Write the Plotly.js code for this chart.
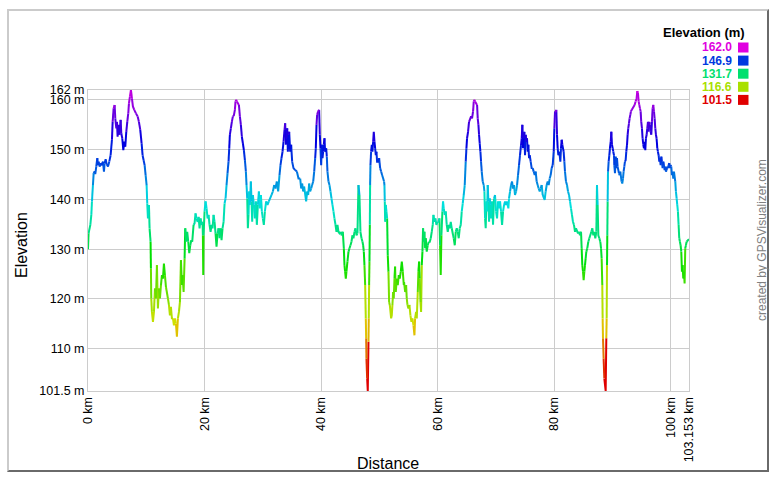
<!DOCTYPE html>
<html><head><meta charset="utf-8">
<script src="https://cdn.plot.ly/plotly-3.0.1.min.js"></script>
<style>
html,body{margin:0;padding:0;background:#fff;}
#frame{position:absolute;left:7px;top:9px;width:762px;height:463px;box-sizing:border-box;border-left:2px solid #cbcbcb;border-top:2px solid #cbcbcb;border-right:2px solid #6a6a6a;border-bottom:2px solid #6a6a6a;background:#fff;}
#chart{position:absolute;left:0;top:0;width:777px;height:478px;}
</style></head><body>
<div id="frame"></div><div id="chart"></div>
<script>
const distKm = [
0.00,0.10,0.40,0.57,0.68,0.85,0.97,1.14,1.25,1.42,1.60,1.71,1.82,2.00,2.17,2.40,2.57,2.74,2.85,3.03,3.20,3.43,3.65,3.88,4.11,4.23,4.40,4.57,4.68,4.86,4.97,5.08,5.26,5.43,5.60,5.71,5.88,6.06,6.23,6.40,6.57,6.74,6.91,7.03,7.20,7.37,7.54,7.71,7.94,8.23,8.52,8.74,8.97,9.20,9.37,9.54,9.72,9.89,10.06,10.17,10.29,10.46,10.57,10.74,10.80,10.86,10.97,11.15,11.32,11.49,11.66,11.83,12.00,12.17,12.35,12.52,12.69,12.86,13.03,13.20,13.38,13.55,13.72,13.89,14.06,14.23,14.40,14.58,14.75,14.92,15.09,15.26,15.43,15.61,15.78,15.95,16.12,16.23,16.41,16.58,16.69,16.86,17.03,17.21,17.38,17.55,17.72,17.89,18.12,
18.29,18.46,18.63,18.81,18.98,19.15,19.32,19.49,19.66,19.72,19.78,19.83,20.01,20.18,20.35,20.52,20.69,20.86,21.04,21.21,21.38,21.55,21.72,21.89,22.06,22.24,22.41,22.58,22.75,22.92,23.09,23.27,23.44,23.61,23.78,23.95,24.12,24.24,24.35,24.52,24.69,24.87,25.04,25.21,25.32,25.44,25.55,25.72,25.90,26.07,26.24,26.41,26.58,26.75,26.93,27.10,27.21,27.33,27.44,27.55,27.67,27.78,27.95,28.07,28.18,28.30,28.47,28.64,28.81,28.98,29.16,29.33,29.50,29.67,29.84,30.01,30.18,30.36,30.58,30.81,31.04,31.27,31.50,31.73,31.96,32.19,32.41,32.64,32.87,33.04,33.21,33.39,33.56,33.73,33.84,33.96,34.07,34.19,34.30,34.42,34.53,34.70,34.87,35.04,35.27,35.56,35.85,36.13,
36.42,36.59,36.76,36.93,37.10,37.27,37.44,37.62,37.79,37.96,38.13,38.30,38.47,38.65,38.82,38.99,39.10,39.22,39.33,39.50,39.67,39.79,39.90,40.02,40.13,40.25,40.36,40.47,40.59,40.70,40.88,40.99,41.10,41.28,41.45,41.62,41.79,41.96,42.13,42.30,42.48,42.65,42.82,42.99,43.16,43.33,43.56,43.73,43.91,44.02,44.13,44.25,44.36,44.53,44.71,44.88,45.05,45.22,45.39,45.56,45.74,45.91,46.08,46.25,46.42,46.59,46.76,46.94,47.11,47.22,47.34,47.45,47.57,47.68,47.74,47.79,47.91,48.02,48.14,48.19,48.25,48.31,48.37,48.42,48.48,48.59,48.71,48.82,48.94,49.05,49.17,49.28,49.40,49.51,49.62,49.80,49.97,50.14,50.31,50.48,50.65,50.82,50.88,50.94,51.00,51.11,51.22,51.34,51.45,51.57,51.68,51.80,51.91,52.03,52.14,52.25,52.37,52.48,52.60,52.71,52.83,53.00,53.17,53.34,53.51,53.68,53.86,54.03,54.20,
54.25,54.43,54.60,54.71,54.83,55.00,55.17,55.34,55.51,55.68,55.86,56.03,56.14,56.31,56.43,56.60,56.71,56.83,56.94,57.06,57.17,57.29,57.40,57.51,57.63,57.74,57.86,57.97,58.14,58.31,58.49,58.66,58.83,59.00,59.17,59.29,59.46,59.63,59.80,59.97,60.14,60.32,60.43,60.54,60.66,60.83,60.94,61.06,61.23,61.40,61.57,61.75,61.92,62.09,62.26,62.43,62.60,62.77,62.95,63.12,63.29,63.46,63.63,63.80,63.98,64.15,64.32,64.49,64.66,64.83,64.95,65.06,65.23,65.40,65.58,65.75,65.92,66.09,66.21,66.32,66.43,66.61,66.78,66.89,67.01,67.12,67.23,67.35,67.46,67.58,67.75,67.92,68.04,68.15,68.26,68.38,68.49,68.61,68.72,68.84,68.95,69.06,69.18,69.35,69.52,69.69,69.86,70.04,70.21,70.38,70.55,70.72,70.89,71.07,71.24,71.41,71.58,71.75,71.92,72.15,
72.26,72.44,72.61,72.78,72.95,73.12,73.29,73.47,73.64,73.81,73.98,74.15,74.32,74.44,74.55,74.67,74.78,74.89,75.01,75.12,75.24,75.35,75.47,75.58,75.70,75.81,75.98,76.15,76.32,76.50,76.67,76.84,77.01,77.18,77.35,77.53,77.70,77.87,78.04,78.21,78.38,78.55,78.73,78.90,79.07,79.24,79.41,79.58,79.76,79.93,80.04,80.16,80.27,80.38,80.50,80.61,80.73,80.90,81.07,81.18,81.30,81.41,81.53,81.64,81.76,81.87,82.04,82.21,82.39,82.56,82.73,82.90,83.07,83.24,83.41,83.59,83.76,83.93,84.10,84.27,84.44,84.62,84.73,84.84,84.96,85.07,85.19,85.30,85.42,85.53,85.70,85.87,86.05,86.22,86.39,86.56,86.73,86.90,87.07,87.25,87.36,87.47,87.59,87.76,87.93,88.05,88.16,88.27,88.33,88.39,88.50,88.62,88.85,88.96,89.02,89.08,89.13,89.19,89.25,89.36,89.48,89.59,89.71,89.82,89.93,90.05,90.16,90.28,
90.33,90.45,90.56,90.68,90.79,90.90,91.02,91.13,91.25,91.36,91.48,91.59,91.70,91.82,91.93,92.05,92.16,92.28,92.39,92.51,92.62,92.73,92.85,92.96,93.08,93.19,93.31,93.48,93.65,93.82,93.99,94.16,94.28,94.39,94.51,94.62,94.74,94.85,94.96,95.08,95.19,95.31,95.42,95.54,95.65,95.76,95.88,95.99,96.11,96.22,96.34,96.45,96.57,96.68,96.79,96.91,97.02,97.14,97.25,97.37,97.48,97.59,97.71,97.82,97.94,98.05,98.17,98.28,98.40,98.51,98.62,98.74,98.85,98.97,99.08,99.20,99.31,99.42,99.54,99.65,99.77,99.88,100.00,100.11,100.22,100.34,100.45,100.57,100.68,100.80,100.91,101.03,101.14,101.25,101.37,101.48,101.60,101.71,101.83,101.94,102.05,102.17,102.28,102.40,102.51,102.63,102.74,102.86,102.97,103.153
];
const elevM = [
130.0,133.2,134.9,136.9,139.6,142.9,145.3,145.6,145.1,146.6,148.3,146.9,147.6,146.6,147.3,146.9,147.6,145.6,147.3,148.1,147.1,146.6,147.6,148.9,152.0,155.6,158.3,159.0,156.3,154.3,155.6,152.6,155.0,153.0,156.0,153.3,152.3,149.9,151.6,150.6,153.6,155.6,157.3,159.3,160.7,162.0,160.3,158.7,158.0,157.3,156.7,155.6,154.0,151.3,148.9,147.9,146.9,144.9,142.9,139.2,136.2,138.9,134.2,131.5,126.1,120.1,117.4,115.4,117.4,122.1,120.1,126.8,118.1,122.1,120.1,122.8,124.8,124.1,127.1,124.8,122.4,120.8,120.1,118.8,116.7,118.4,116.1,116.1,114.7,116.1,115.1,112.4,116.1,117.4,119.4,127.8,122.8,124.8,121.4,128.1,134.2,131.5,133.5,131.5,129.2,130.8,131.8,131.5,134.9,
135.2,137.2,136.2,135.5,136.5,134.2,136.2,134.9,135.5,132.8,124.8,132.8,137.6,139.6,138.2,136.2,136.9,134.9,133.5,134.9,134.2,136.9,135.5,133.2,130.5,133.2,134.2,132.2,134.2,131.8,134.2,135.5,139.2,140.2,142.9,145.3,147.6,150.3,153.0,154.3,155.6,156.7,156.9,158.0,159.7,160.0,159.7,159.3,159.0,156.7,155.0,152.6,151.3,149.9,147.9,145.6,142.9,140.2,134.2,136.9,141.6,138.9,143.6,139.6,135.5,140.9,138.9,136.2,139.6,134.9,138.9,141.6,138.2,140.9,137.6,136.2,134.9,137.6,139.6,138.9,139.6,140.2,140.9,141.6,142.9,142.2,143.6,141.6,144.9,146.9,148.3,149.6,151.6,154.0,155.3,151.0,152.3,154.3,149.6,153.0,153.6,149.6,151.0,147.6,146.3,145.9,145.6,144.2,
144.2,142.2,143.2,141.6,142.6,140.2,139.6,141.6,140.9,143.2,141.6,142.2,142.9,143.6,145.6,148.3,150.3,155.0,157.0,157.7,158.0,153.0,150.3,146.9,151.0,148.3,149.6,151.0,152.3,149.6,150.3,148.6,145.6,143.6,142.9,141.6,140.2,138.9,137.6,136.2,134.9,133.5,134.9,133.5,133.2,133.5,132.8,133.5,130.2,126.8,125.5,124.1,125.5,127.5,129.5,130.2,130.8,131.5,132.8,132.2,133.5,134.2,132.8,133.2,142.9,140.9,133.5,132.2,131.5,130.8,129.5,126.8,122.8,116.1,112.1,108.0,104.0,101.5,111.4,116.1,122.8,127.5,134.9,142.9,146.9,149.6,151.0,149.6,151.6,153.6,151.6,150.3,148.9,149.6,147.6,147.6,148.3,146.3,145.6,144.9,144.2,143.6,142.9,139.6,135.5,138.9,137.6,136.2,128.8,125.5,119.4,118.8,116.7,116.1,116.7,118.8,121.4,120.1,124.1,126.5,121.4,124.1,122.8,124.8,124.1,125.5,127.5,125.5,122.8,
123.4,121.4,122.8,120.1,118.8,118.1,118.8,116.7,115.4,116.1,114.7,112.7,116.1,117.4,116.1,121.4,125.5,127.5,124.1,119.4,117.4,126.8,129.5,134.2,131.5,133.5,130.2,132.2,129.5,130.8,131.5,131.5,132.2,133.5,134.9,136.9,135.5,136.2,134.9,135.5,135.5,136.2,130.8,124.8,132.8,137.6,139.6,138.2,136.9,137.6,134.9,133.5,134.9,134.2,135.5,134.2,132.8,132.2,130.8,133.5,134.2,133.5,132.2,134.2,134.9,137.6,139.2,140.9,142.9,147.6,150.3,152.3,153.6,155.6,156.3,156.7,156.3,157.7,159.7,160.0,159.7,159.3,159.0,156.3,155.0,153.0,151.3,149.6,147.6,145.6,143.6,142.9,141.6,136.2,134.2,139.6,137.6,142.9,139.6,135.5,140.2,138.9,136.2,139.6,134.9,140.2,140.9,137.6,136.2,139.6,138.2,139.6,137.6,134.9,137.6,138.9,139.6,138.9,139.6,138.2,
140.2,141.6,142.9,143.6,142.2,142.9,140.9,141.6,142.9,144.9,146.9,148.9,150.9,152.3,155.0,150.3,152.3,153.6,148.9,153.0,151.6,152.3,149.6,151.0,148.3,148.9,147.6,146.3,146.3,145.6,144.9,145.6,143.6,142.9,142.2,141.6,142.2,142.9,140.9,140.2,139.9,141.6,142.9,143.6,142.9,144.2,144.9,146.3,146.9,149.6,154.3,157.7,157.7,158.0,153.0,150.3,148.9,149.6,147.6,150.3,152.0,151.0,149.6,149.6,147.6,145.6,143.6,142.9,141.6,140.9,139.6,138.2,136.9,135.5,134.9,133.5,134.2,133.5,133.2,133.5,132.8,133.5,130.2,126.8,125.5,123.8,125.5,126.8,128.2,129.5,130.2,131.5,132.2,132.8,133.5,134.2,132.8,133.5,132.2,133.5,142.9,138.9,132.8,132.2,131.5,130.2,128.2,122.8,116.1,112.1,108.0,104.0,101.5,112.1,116.1,126.8,132.8,139.6,145.6,147.6,148.9,150.3,151.6,153.6,151.0,150.3,149.6,148.9,
146.9,145.3,148.6,146.3,148.3,146.6,145.6,145.3,144.9,145.6,144.2,143.6,143.2,144.2,145.6,146.6,147.6,147.9,149.6,150.9,153.0,154.3,155.3,156.3,157.0,157.7,158.0,158.3,158.7,159.0,159.7,160.3,161.8,161.4,159.7,159.0,158.3,157.7,155.6,154.3,152.3,151.0,150.3,151.6,149.9,152.3,153.0,154.3,155.6,153.6,155.6,155.0,153.6,153.0,155.6,158.3,159.0,157.7,156.3,154.3,153.0,152.3,150.3,149.6,148.9,147.6,148.3,146.9,148.6,147.6,146.3,147.6,146.9,145.9,146.6,145.6,145.9,146.6,146.3,146.9,147.3,146.3,146.9,146.6,144.9,145.6,144.2,145.6,143.9,143.6,141.6,140.2,138.9,137.6,134.9,132.2,131.5,130.8,129.5,125.5,126.8,124.1,125.5,123.1,130.2,130.8,131.5,131.8,131.8,132.0
];
const yTickVals = [101.5,110,120,130,140,150,160,162];
const xTickVals = [0,20,40,60,80,100,103.153];
const legendVals = [162.0,146.9,131.7,116.6,101.5];

const FONT = 'Liberation Sans, Arial, sans-serif';
const minE = Math.min(...yTickVals), maxE = Math.max(...yTickVals);

function hsvHex(h){
  const v = 0.88, s = 1;
  const c = v*s, hp = (h%360)/60, x = c*(1-Math.abs(hp%2-1));
  let r=0,g=0,b=0;
  if(hp<1){r=c;g=x;} else if(hp<2){r=x;g=c;} else if(hp<3){g=c;b=x;}
  else if(hp<4){g=x;b=c;} else if(hp<5){r=x;b=c;} else {r=c;b=x;}
  const m=v-c, toH=t=>Math.round((t+m)*255).toString(16).padStart(2,'0');
  return '#'+toH(r)+toH(g)+toH(b);
}
function hueOf(e){ return Math.max(0,Math.min(300,300*(e-minE)/(maxE-minE))); }
function elevColor(e){ return hsvHex(hueOf(e)); }

// group line segments by colour bin (segment coloured by its lower end)
const STEP = 4;
const bins = {};
for(let i=0;i<distKm.length-1;i++){
  const lo = Math.min(elevM[i], elevM[i+1]);
  const b = Math.floor(hueOf(lo)/STEP);
  if(!bins[b]) bins[b] = {x:[],y:[],last:-2};
  const B = bins[b];
  if(B.last !== i){
    if(B.x.length){B.x.push(null);B.y.push(null);}
    B.x.push(distKm[i]); B.y.push(elevM[i]);
  }
  B.x.push(distKm[i+1]); B.y.push(elevM[i+1]);
  B.last = i+1;
}
const traces = Object.keys(bins).map(k=>({
  type:'scatter', mode:'lines', x:bins[k].x, y:bins[k].y,
  line:{color:hsvHex(Math.min(300,k*STEP)), width:2},
  connectgaps:false, hoverinfo:'skip', showlegend:false
}));

function px2x(px){ return (px-88)/601; }
function py2y(py){ return (391-py)/301; }

const annotations = [
  {text:'Elevation', x:px2x(22), y:py2y(245), xref:'paper', yref:'paper', showarrow:false, textangle:-90,
   font:{family:FONT,size:16,color:'#000'}, xanchor:'center', yanchor:'middle'},
  {text:'Distance', x:px2x(388), y:py2y(463), xref:'paper', yref:'paper', showarrow:false,
   font:{family:FONT,size:16,color:'#000'}, xanchor:'center', yanchor:'middle'},
  {text:'<b>Elevation (m)</b>', x:px2x(747), y:py2y(33), xref:'paper', yref:'paper', showarrow:false,
   font:{family:FONT,size:13,color:'#000'}, xanchor:'right', yanchor:'middle'},
  {text:'created by GPSVisualizer.com', x:px2x(762), y:py2y(240), xref:'paper', yref:'paper', showarrow:false, textangle:-90,
   font:{family:FONT,size:12,color:'#808080'}, xanchor:'center', yanchor:'middle'}
];
const shapes = [];
legendVals.forEach((v,i)=>{
  const cy = 47.5 + 13.1*i;
  annotations.push({text:'<b>'+v.toFixed(1)+'</b>', x:px2x(734), y:py2y(cy), xref:'paper', yref:'paper',
    showarrow:false, xanchor:'right', yanchor:'middle', font:{family:FONT,size:12,color:elevColor(v)}});
  shapes.push({type:'rect', xref:'paper', yref:'paper', x0:px2x(738), x1:px2x(748.5), y0:py2y(cy+5), y1:py2y(cy-5),
    fillcolor:elevColor(v), line:{width:0}});
});

const axisCommon = {showgrid:true, gridcolor:'#cccccc', gridwidth:1, showline:true, linecolor:'#cccccc', linewidth:1,
  mirror:true, zeroline:false, ticks:'', tickmode:'array', tickfont:{family:FONT,size:12.5,color:'#000'}};

const layout = {
  width:777, height:478,
  margin:{l:88, r:88, t:90, b:87, pad:0},
  paper_bgcolor:'rgba(0,0,0,0)', plot_bgcolor:'#ffffff',
  showlegend:false,
  xaxis:Object.assign({}, axisCommon, {range:[0,103.153], tickvals:xTickVals,
    ticktext:xTickVals.map(v=>v+' km'), tickangle:-90}),
  yaxis:Object.assign({}, axisCommon, {range:[minE,maxE], tickvals:yTickVals,
    ticktext:yTickVals.map(v=>v+' m')}),
  annotations:annotations, shapes:shapes,
  hovermode:false
};
Plotly.newPlot('chart', traces, layout, {staticPlot:true, displayModeBar:false});
</script>
</body></html>
